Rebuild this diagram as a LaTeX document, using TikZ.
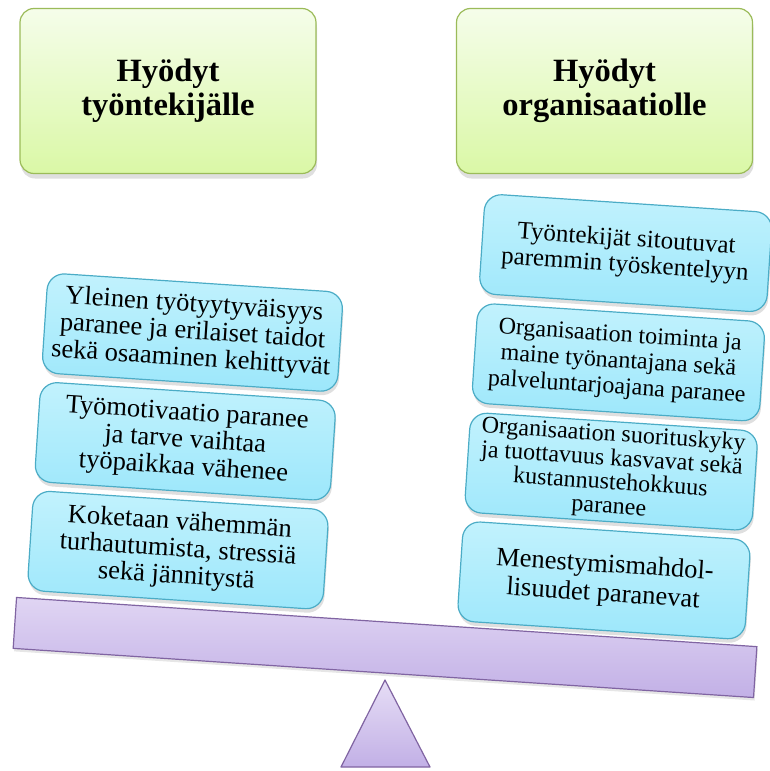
\documentclass[tikz,border=0pt]{standalone}
\usepackage{fontspec}
\setmainfont{Liberation Serif}
\usetikzlibrary{shadows}
\usetikzlibrary{positioning}

\definecolor{headline}{RGB}{155,187,89}
\definecolor{headtop}{RGB}{245,253,234}
\definecolor{headbot}{RGB}{218,248,166}
\definecolor{boxline}{RGB}{75,172,198}
\definecolor{boxtop}{RGB}{194,242,253}
\definecolor{boxbot}{RGB}{156,231,251}
\definecolor{plankline}{RGB}{128,100,162}
\definecolor{planktop}{RGB}{224,213,243}
\definecolor{plankbot}{RGB}{194,176,230}

\tikzstyle{heading} = [rectangle, rounded corners=14pt, minimum width=296pt, minimum height=165pt, align=center, draw=headline, line width=1.2pt, top color=headtop, bottom color=headbot, font=\bfseries\fontsize{32.5}{34}\selectfont, drop shadow={opacity=0.25, shadow xshift=1pt, shadow yshift=-5pt}]
\tikzstyle{benefit} = [rectangle, rounded corners=17pt, minimum width=294pt, minimum height=100pt, inner sep=2pt, align=center, draw=boxline, line width=1.2pt, top color=boxtop, bottom color=boxbot, font=\fontsize{26.5}{27}\selectfont, drop shadow={opacity=0.25, shadow xshift=1pt, shadow yshift=-4pt}]
\tikzstyle{plank} = [rectangle, minimum width=742pt, minimum height=51pt, draw=plankline, line width=1.2pt, top color=planktop, bottom color=plankbot, drop shadow={opacity=0.2, shadow xshift=1pt, shadow yshift=-3pt}]
\tikzstyle{fulcrum} = [draw=plankline, line width=1.2pt, top color=planktop!80!white, bottom color=plankbot, line join=round]

\begin{document}
\begin{tikzpicture}[x=1pt, y=1pt]
  \useasboundingbox (0,0) rectangle (769,-771);

  % headings on top
  \node (hworker) [heading] at (168,-91) {Hyödyt\\työntekijälle};
  \node (horg) [heading] at (604.5,-91) {Hyödyt\\organisaatiolle};

  % the tilted scale with its boxes
  \begin{scope}[shift={(385,-648)}, rotate=-3.8, transform shape]
    \node (plank) [plank] at (0,0.5) {};

    \node (wone) [benefit, minimum width=296pt] at (-213,302) {Yleinen työtyytyväisyys\\paranee ja erilaiset taidot\\sekä osaaminen kehittyvät};
    \node (wtwo) [benefit, minimum width=296pt] at (-213,193) {Työmotivaatio paranee\\ja tarve vaihtaa\\työpaikkaa vähenee};
    \node (wthree) [benefit, minimum width=296pt] at (-213,84) {Koketaan vähemmän\\turhautumista, stressiä\\sekä jännitystä};

    \node (oone) [benefit, minimum width=288pt, font=\fontsize{25}{26}\selectfont] at (214,410) {Työntekijät sitoutuvat\\paremmin työskentelyyn};
    \node (otwo) [benefit, minimum width=288pt, font=\fontsize{24}{26}\selectfont] at (214,300.5) {Organisaation toiminta ja\\maine työnantajana sekä\\palveluntarjoajana paranee};
    \node (othree) [benefit, minimum width=288pt, font=\fontsize{24}{24}\selectfont] at (214,191) {Organisaation suorituskyky\\ja tuottavuus kasvavat sekä\\kustannustehokkuus\\paranee};
    \node (ofour) [benefit, minimum width=288pt, font=\fontsize{26.5}{29}\selectfont] at (214,82) {Menestymismahdol-\\lisuudet paranevat};
  \end{scope}

  % fulcrum under the plank
  \coordinate (tip) at (385,-680);
  \coordinate (baseright) at (430,-767);
  \coordinate (baseleft) at (341,-767);
  \shade [fulcrum] (tip) -- (baseright) -- (baseleft) -- cycle;

\end{tikzpicture}
\end{document}
